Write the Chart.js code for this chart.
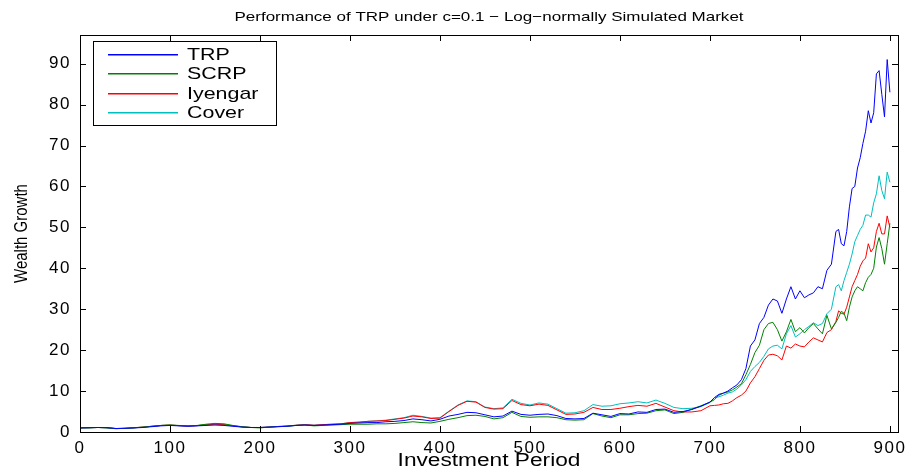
<!DOCTYPE html>
<html>
<head>
<meta charset="utf-8">
<script src="https://cdn.jsdelivr.net/npm/chart.js@4.4.1/dist/chart.umd.min.js"></script>
<style>
  body { margin: 0; background: #fff; }
  #wrap { width: 911px; height: 472px; }
</style>
</head>
<body>
<div id="wrap"><canvas id="perfChart" width="911" height="472"></canvas></div>
<script>
// investment periods (x)
const periods = [
  0, 10, 20, 30, 40, 50, 60, 70, 80, 90, 100, 110, 120, 130, 140, 150, 160, 170, 180, 190,
  200, 210, 220, 230, 240, 250, 260, 270, 280, 290, 300, 310, 320, 330, 340, 350, 360, 370, 380, 390,
  400, 410, 420, 430, 440, 450, 460, 470, 480, 490, 500, 510, 520, 530, 540, 550, 560, 570, 580, 590,
  600, 610, 620, 630, 640, 650, 660, 670, 680, 690,
  700, 705, 710, 715, 720, 725, 730, 735, 740, 745, 750, 755, 760, 765, 770, 775, 780, 785, 790, 795,
  800, 805, 810, 815, 820, 825, 830, 835, 840,
  843, 846, 849, 852, 855, 858, 861, 864, 867, 870, 873, 876, 879, 882, 885, 888, 891, 894, 897, 900
];

const trp = [
  1.0, 1.05, 1.1, 1.05, 0.85, 0.9, 1.0, 1.1, 1.3, 1.5, 1.6, 1.5, 1.4, 1.5, 1.6, 1.7, 1.6, 1.4, 1.2, 1.1,
  1.1, 1.2, 1.3, 1.4, 1.6, 1.7, 1.6, 1.7, 1.8, 1.9, 2.1, 2.2, 2.3, 2.3, 2.5, 2.6, 2.8, 3.2, 3.0, 2.7,
  3.1, 3.9, 4.3, 4.8, 4.7, 4.2, 3.7, 3.9, 5.1, 4.3, 4.1, 4.3, 4.4, 4.0, 3.3, 3.2, 3.3, 4.6, 4.2, 3.8,
  4.5, 4.4, 4.9, 4.8, 5.5, 5.6, 4.8, 5.0, 5.5, 6.3,
  7.3, 8.4, 9.2, 9.5, 10.0, 10.8, 11.5, 12.8, 15.5, 21.0, 22.5, 26.5, 28.0, 31.0, 32.5, 32.0, 29.0, 32.5, 35.5, 32.5,
  34.5, 32.8, 33.5, 34.0, 35.5, 35.0, 39.5, 41.0, 49.0,
  49.5, 46.0, 45.5, 49.0, 55.0, 59.5, 60.0, 64.5, 67.0, 70.5, 73.5, 78.5, 75.5, 78.0, 87.5, 88.3, 82.5, 77.0, 91.0, 83.0
];

const scrp = [
  1.0, 1.0, 1.1, 1.0, 0.8, 0.9, 1.0, 1.2, 1.4, 1.6, 1.7, 1.6, 1.5, 1.6, 1.9, 2.1, 2.0, 1.6, 1.3, 1.1,
  1.0, 1.2, 1.3, 1.4, 1.6, 1.7, 1.5, 1.6, 1.7, 1.8, 1.9, 1.9, 1.9, 2.0, 2.0, 2.1, 2.3, 2.5, 2.3, 2.2,
  2.6, 3.1, 3.5, 4.0, 4.1, 3.8, 3.2, 3.5, 4.8, 3.8, 3.6, 3.7, 3.7, 3.5, 3.0, 2.9, 3.0, 4.5, 3.9, 3.5,
  4.2, 4.2, 4.5, 4.6, 5.2, 5.4, 4.5, 4.8, 5.6, 6.4,
  7.3, 7.9, 9.0, 9.5, 9.8, 10.3, 11.0, 11.8, 14.0, 16.5, 19.4, 21.2, 25.0, 26.5, 26.8, 25.0, 22.2, 24.5, 27.5, 24.5,
  25.5, 24.2, 25.5, 26.5, 25.2, 24.0, 28.5, 25.2, 26.8,
  28.0, 29.5, 29.0, 27.2, 30.5, 33.0, 34.5, 35.5, 35.0, 34.5, 36.5, 37.8, 38.5, 40.0, 45.2, 47.5, 44.8, 41.0, 46.0, 51.0
];

const iyengar = [
  1.0, 1.05, 1.1, 1.05, 0.85, 0.9, 1.05, 1.2, 1.4, 1.6, 1.7, 1.55, 1.45, 1.55, 1.75, 1.9, 1.8, 1.5, 1.25, 1.1,
  1.1, 1.2, 1.35, 1.45, 1.65, 1.8, 1.65, 1.8, 1.9, 2.0, 2.3, 2.4, 2.6, 2.7, 2.8, 3.1, 3.4, 3.9, 3.7, 3.3,
  3.4, 5.0, 6.5, 7.5, 7.3, 6.0, 5.6, 5.7, 7.7, 6.7, 6.4, 6.8, 6.5, 5.4, 4.3, 4.4, 4.8, 6.0, 5.5, 5.5,
  5.8, 6.2, 6.5, 6.3, 7.0, 6.1, 5.2, 4.9, 4.9, 5.2,
  6.4, 6.5, 6.6, 6.9, 7.0, 7.6, 8.4, 9.0, 10.0, 12.0, 13.5, 15.5, 17.5, 18.8, 19.0, 18.6, 17.6, 21.0, 20.5, 21.5,
  21.0, 20.8, 22.0, 23.0, 22.5, 22.0, 24.3, 25.0, 27.0,
  29.6, 29.0, 28.8, 30.5, 33.0, 35.5, 37.0, 38.5, 40.5, 41.8, 42.5, 46.0, 44.0, 45.0, 49.0, 51.0, 48.4, 48.4, 52.8, 50.0
];

const cover = [
  1.0, 1.05, 1.1, 1.05, 0.85, 0.9, 1.05, 1.2, 1.4, 1.6, 1.7, 1.55, 1.45, 1.55, 1.75, 1.9, 1.8, 1.5, 1.25, 1.1,
  1.1, 1.2, 1.35, 1.45, 1.65, 1.8, 1.65, 1.8, 1.9, 2.0, 2.3, 2.4, 2.6, 2.7, 2.9, 3.2, 3.5, 4.1, 3.8, 3.4,
  3.5, 5.1, 6.6, 7.6, 7.4, 6.1, 5.7, 5.9, 8.0, 7.0, 6.6, 7.1, 6.8, 5.7, 4.6, 4.7, 5.2, 6.7, 6.3, 6.4,
  6.9, 7.1, 7.4, 7.1, 7.8, 7.0, 6.0, 5.7, 5.8, 6.2,
  7.2, 8.4, 8.6, 9.0, 9.5, 9.8, 10.5, 11.5, 12.8, 14.8, 16.0, 17.0, 18.5, 20.3, 21.0, 21.2, 20.3, 24.0, 26.0, 23.2,
  24.0, 25.0, 25.8, 26.7, 26.0, 26.5, 28.9, 30.0, 35.5,
  36.0, 34.5, 37.0, 39.0, 41.0, 43.5, 46.5, 48.0, 49.5, 50.5, 53.0, 53.0, 52.5, 56.0, 58.2, 62.6, 59.0, 57.0, 63.5, 61.0
];

const seriesNames = ['TRP', 'SCRP', 'Iyengar', 'Cover'];
const seriesColors = ['#0000ff', '#008000', '#ff0000', '#00bfbf'];

const xTicks = [0, 100, 200, 300, 400, 500, 600, 700, 800, 900];
const yTicks = [0, 10, 20, 30, 40, 50, 60, 70, 80, 90];

const titleText = 'Performance of TRP under c=0.1 \u2212 Log\u2212normally Simulated Market';
const xLabel = 'Investment Period';
const yLabel = 'Wealth Growth';

function toPoints(values) {
  return values.map((v, i) => ({ x: periods[i], y: v }));
}

const font = "'Liberation Sans', Arial, Helvetica, sans-serif";
const stretch = 1.26; // the reference text is drawn wide

// draw a text string stretched horizontally
function wideText(ctx, text, x, y, size, align) {
  ctx.save();
  ctx.font = size + 'px ' + font;
  ctx.fillStyle = '#000';
  ctx.textBaseline = 'middle';
  ctx.textAlign = align || 'center';
  ctx.translate(x, y);
  ctx.scale(stretch, 1);
  ctx.fillText(text, 0, 0);
  ctx.restore();
}

// MATLAB style box, inward ticks, titles and legend
const matlabPlugin = {
  id: 'matlabBox',
  beforeDraw(chart) {
    chart.ctx.letterSpacing = '1.5px';
  },
  afterDraw(chart) {
    const { ctx, chartArea: a, scales } = chart;
    ctx.letterSpacing = '0px';
    ctx.save();
    ctx.strokeStyle = '#000';
    ctx.lineWidth = 1;
    ctx.strokeRect(a.left + 0.5, a.top + 0.5, a.right - a.left, a.bottom - a.top);
    ctx.beginPath();
    xTicks.forEach(t => {
      const px = Math.round(scales.x.getPixelForValue(t)) + 0.5;
      ctx.moveTo(px, a.bottom); ctx.lineTo(px, a.bottom - 6);
      ctx.moveTo(px, a.top); ctx.lineTo(px, a.top + 6);
    });
    yTicks.forEach(t => {
      const py = Math.round(scales.y.getPixelForValue(t)) + 0.5;
      ctx.moveTo(a.left, py); ctx.lineTo(a.left + 6, py);
      ctx.moveTo(a.right, py); ctx.lineTo(a.right - 6, py);
    });
    ctx.stroke();
    ctx.restore();

    // titles
    wideText(ctx, titleText, (a.left + a.right) / 2, 17, 13.5);
    wideText(ctx, xLabel, (a.left + a.right) / 2, 461, 18);
    ctx.save();
    ctx.font = '15px ' + font;
    ctx.fillStyle = '#000';
    ctx.textAlign = 'center';
    ctx.textBaseline = 'middle';
    ctx.translate(22, (a.top + a.bottom) / 2);
    ctx.scale(stretch, 1);
    ctx.rotate(-Math.PI / 2);
    ctx.fillText(yLabel, 0, 0);
    ctx.restore();

    // legend
    const lx = a.left + 13, ly = a.top + 6, lw = 183, lh = 84;
    ctx.save();
    ctx.fillStyle = '#fff';
    ctx.fillRect(lx, ly, lw, lh);
    ctx.strokeStyle = '#000';
    ctx.lineWidth = 1;
    ctx.strokeRect(lx + 0.5, ly + 0.5, lw, lh);
    ctx.restore();
    seriesNames.forEach((name, i) => {
      const y = Math.round(ly + 13 + i * 19.3);
      ctx.save();
      ctx.fillStyle = seriesColors[i];
      ctx.fillRect(lx + 15, y, 70, 1.5);
      ctx.restore();
      wideText(ctx, name, lx + 94, y + 1, 17, 'left');
    });
  }
};

new Chart(document.getElementById('perfChart'), {
  type: 'line',
  data: {
    datasets: [
      { label: seriesNames[0], data: toPoints(trp), borderColor: seriesColors[0] },
      { label: seriesNames[1], data: toPoints(scrp), borderColor: seriesColors[1] },
      { label: seriesNames[2], data: toPoints(iyengar), borderColor: seriesColors[2] },
      { label: seriesNames[3], data: toPoints(cover), borderColor: seriesColors[3] }
    ]
  },
  options: {
    responsive: false,
    animation: false,
    parsing: false,
    elements: {
      point: { radius: 0 },
      line: { borderWidth: 1, tension: 0 }
    },
    layout: { padding: { left: 0, right: 13, top: 35, bottom: 0 } },
    plugins: {
      title: { display: false },
      legend: { display: false },
      tooltip: { enabled: false }
    },
    scales: {
      x: {
        type: 'linear',
        min: 0,
        max: 909,
        afterFit(s) { s.height = 40; },
        afterBuildTicks(s) { s.ticks = xTicks.map(v => ({ value: v })); },
        grid: { display: false, drawTicks: false },
        border: { display: false },
        ticks: { color: '#000', font: { family: font, size: 17 }, padding: 6, maxRotation: 0 }
      },
      y: {
        type: 'linear',
        min: 0,
        max: 97,
        afterFit(s) { s.width = 80; },
        afterBuildTicks(s) { s.ticks = yTicks.map(v => ({ value: v })); },
        grid: { display: false, drawTicks: false },
        border: { display: false },
        ticks: { color: '#000', font: { family: font, size: 17 }, padding: 9 }
      }
    }
  },
  plugins: [matlabPlugin]
});
</script>
</body>
</html>
